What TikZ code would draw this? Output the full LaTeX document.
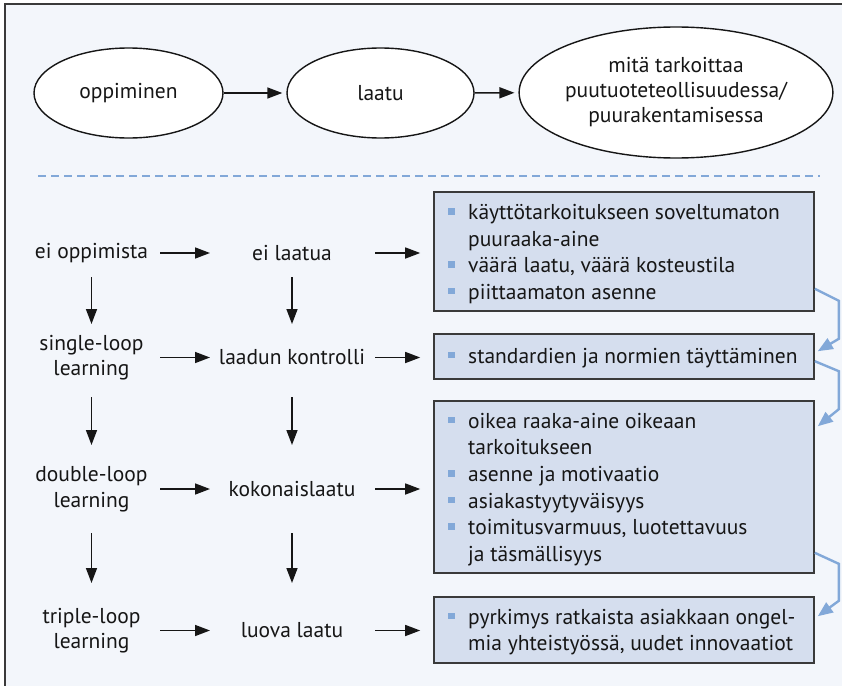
\documentclass[tikz,border=0pt]{standalone}
\usepackage{fontspec}
\setmainfont{PT Sans}
\usetikzlibrary{arrows.meta,shapes.geometric}

\definecolor{panelbg}{HTML}{F3F6FB}
\definecolor{boxfill}{HTML}{D5DEEE}
\definecolor{boxline}{HTML}{3A3A3A}
\definecolor{loopblue}{HTML}{82A8D8}
\definecolor{inkc}{HTML}{161616}

% small blue square bullet hung to the left of a list line
\newcommand{\sqbul}{\llap{\textcolor{loopblue}{\rule[5pt]{6.5pt}{6.5pt}}\hspace{13.5pt}}}

\tikzset{
  txt/.style={font=\fontsize{21.5}{25.5}\selectfont, text=inkc, align=center, inner sep=0pt},
  oval/.style={ellipse, draw=inkc, line width=1.4pt, fill=white, inner sep=0pt,
    font=\fontsize{21.5}{25}\selectfont, text=inkc, align=center},
  arr/.style={draw=inkc, line width=1.5pt, -{Triangle[length=15pt,width=11pt]}},
  infobox/.style={rectangle, draw=boxline, line width=1.6pt, fill=boxfill,
    minimum width=380pt, inner sep=0pt},
  boxtext/.style={font=\fontsize{21.5}{26.6}\selectfont, text=inkc, align=left,
    inner sep=0pt, anchor=west},
  looparr/.style={draw=loopblue, line width=2.4pt,
    -{Triangle[length=15pt,width=12pt]}},
  dashline/.style={draw=loopblue, line width=2.2pt, dash pattern=on 8pt off 5pt}
}

\begin{document}
\begin{tikzpicture}[x=1pt,y=-1pt]
  \useasboundingbox (0,0) rectangle (842,685);
  \clip (0,0) rectangle (842,685);
  \fill[white] (0,0) rectangle (842,685);
  % panel
  \draw[draw=boxline, line width=1.8pt, fill=panelbg] (5,4) rectangle (870,720);

  % top row
  \node[oval, minimum width=189pt, minimum height=90pt] (e1) at (128.5,93) {oppiminen};
  \node[oval, minimum width=187pt, minimum height=90pt] (e2) at (380.5,93) {laatu};
  \node[oval, minimum width=276pt, minimum height=131pt] (e3) at (676,92.5)
    {mitä tarkoittaa\\puutuoteteollisuudessa/\\puurakentamisessa};
  \draw[arr, shorten >=4pt] (e1) -- (e2);
  \draw[arr, shorten >=4pt] (e2) -- (e3);

  \draw[dashline] (38,176) -- (820,176);

  % learning column
  \node[txt] (l1) at (91.5,253) {ei oppimista};
  \node[txt] (l2) at (91.5,357.5) {single-loop\\learning};
  \node[txt] (l3) at (91.5,489) {double-loop\\learning};
  \node[txt] (l4) at (91.5,630.5) {triple-loop\\learning};

  % quality column
  \node[txt] (m1) at (292,253) {ei laatua};
  \node[txt] (m2) at (292,357.5) {laadun kontrolli};
  \node[txt] (m3) at (292,489) {kokonaislaatu};
  \node[txt] (m4) at (292,630.5) {luova laatu};

  % boxes
  \node[infobox, minimum height=119pt] (b1) at (624,251.5) {};
  \node[infobox, minimum height=45pt] (b2) at (624,356.5) {};
  \node[infobox, minimum height=172pt] (b3) at (624,487) {};
  \node[infobox, minimum height=66pt] (b4) at (624,630) {};

  \node[boxtext] (t1) at (468,254) {\sqbul käyttötarkoitukseen soveltumaton\\puuraaka-aine\\
    \sqbul väärä laatu, väärä kosteustila\\\sqbul piittaamaton asenne};
  \node[boxtext] (t2) at (468,358) {\sqbul standardien ja normien täyttäminen};
  \node[boxtext] (t3) at (468,489.5) {\sqbul oikea raaka-aine oikeaan\\tarkoitukseen\\
    \sqbul asenne ja motivaatio\\\sqbul asiakastyytyväisyys\\
    \sqbul toimitusvarmuus, luotettavuus\\ja täsmällisyys};
  \node[boxtext] (t4) at (468,632) {\sqbul pyrkimys ratkaista asiakkaan ongel-\\mia yhteistyössä, uudet innovaatiot};

  % horizontal arrows
  \foreach \r in {1,2,3,4}{
    \draw[arr, shorten <=68.5pt, shorten >=82pt] (l\r.center) -- (m\r.center);
    \draw[arr, shorten <=83pt, shorten >=13pt] (m\r.center) -- (m\r.center -| b\r.west);
  }

  % vertical arrows
  \foreach \c in {l,m}{
    \draw[arr, shorten <=24pt, shorten >=33.5pt] (\c1.center) -- (\c2.center);
    \draw[arr, shorten <=39.5pt, shorten >=44pt] (\c2.center) -- (\c3.center);
    \draw[arr, shorten <=44pt, shorten >=47.5pt] (\c3.center) -- (\c4.center);
  }

  % loops between the boxes
  \draw[looparr] ([yshift=23pt]b1.south east) -- ++(24,12) -- ++(0,38)
    -- ([xshift=3pt,yshift=-18pt]b2.north east);
  \draw[looparr] ([yshift=-28pt]b2.north east) -- ++(24,10) -- ++(0,38)
    -- ([xshift=3pt,yshift=-26pt]b3.north east);
  \draw[looparr] ([yshift=21pt]b3.south east) -- ++(24,11) -- ++(0,37)
    -- ([xshift=3pt,yshift=-20pt]b4.north east);
\end{tikzpicture}
\end{document}
